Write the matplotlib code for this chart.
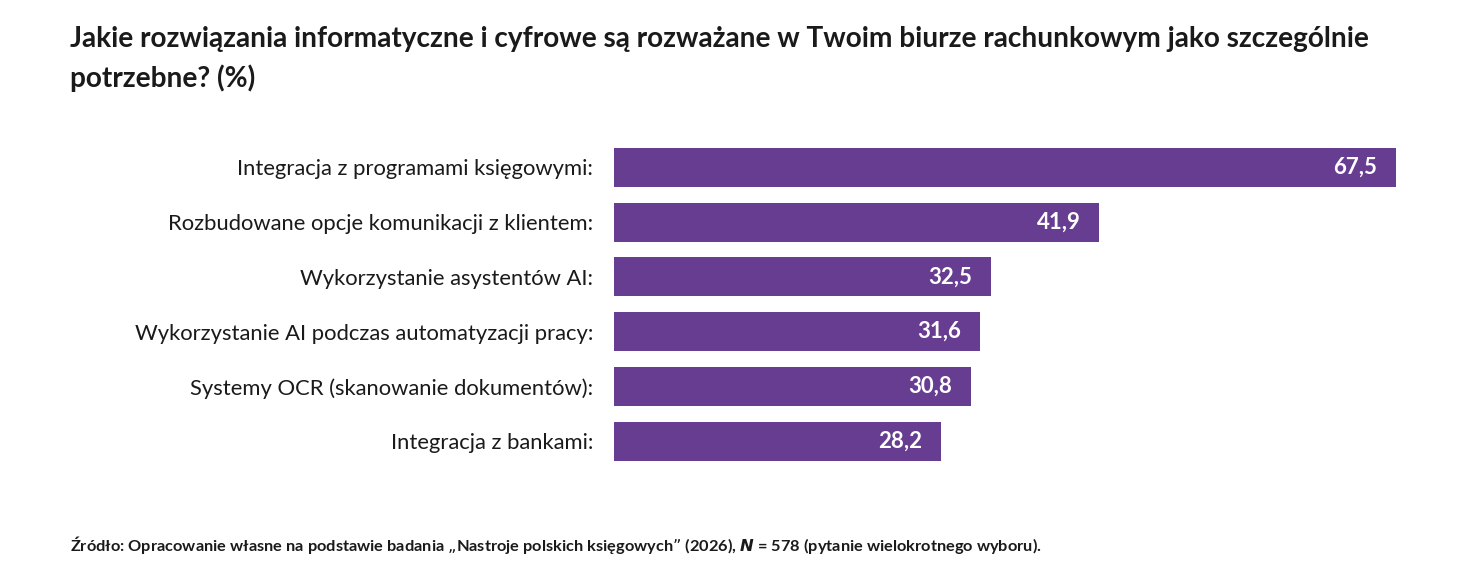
import matplotlib
matplotlib.use("Agg")
from matplotlib import pyplot as plt

categories = [
    "Integracja z programami księgowymi:",
    "Rozbudowane opcje komunikacji z klientem:",
    "Wykorzystanie asystentów AI:",
    "Wykorzystanie AI podczas automatyzacji pracy:",
    "Systemy OCR (skanowanie dokumentów):",
    "Integracja z bankami:",
]
values = [67.5, 41.9, 32.5, 31.6, 30.8, 28.2]

TITLE = ("Jakie rozwiązania informatyczne i cyfrowe są rozważane w Twoim biurze "
         "rachunkowym jako szczególnie\npotrzebne? (%)")
PURPLE = "#673d91"

plt.rcParams['font.family'] = ['Lato', 'DejaVu Sans']

fig = plt.figure(figsize=(14.78, 5.84), dpi=100)
ax = fig.add_axes([614 / 1478, 1 - 468.5 / 584, 782 / 1478, 328.5 / 584])

pos = list(range(len(values)))
ax.barh(pos, values, height=0.71, color=PURPLE)
ax.set_xlim(0, 67.5)
ax.set_ylim(len(values) - 0.5, -0.5)

for p, v in zip(pos, values):
    ax.text(v - 1.6, p, f"{v:.1f}".replace(".", ","), color="white",
            fontsize=16, fontweight="bold", ha="right", va="center")

ax.set_yticks(pos)
ax.set_yticklabels(categories, fontsize=15.8, color="#1a1a1a")
ax.tick_params(axis="y", length=0, pad=15)
ax.set_xticks([])
for s in ax.spines.values():
    s.set_visible(False)

fig.text(70 / 1478, 1 - 26 / 584, TITLE, fontsize=20.2, fontweight="bold",
         color="#1a1a1a", ha="left", va="top", linespacing=1.55)

fig.text(70 / 1478, 1 - 545 / 584,
         "Źródło: Opracowanie własne na podstawie badania „Nastroje polskich księgowych” (2026), "
         "$\\mathbfit{N}$ = 578 (pytanie wielokrotnego wyboru).",
         fontsize=11.8, fontweight="bold", color="#1a1a1a", ha="left", va="center")

fig.savefig("out.png", dpi=100)
